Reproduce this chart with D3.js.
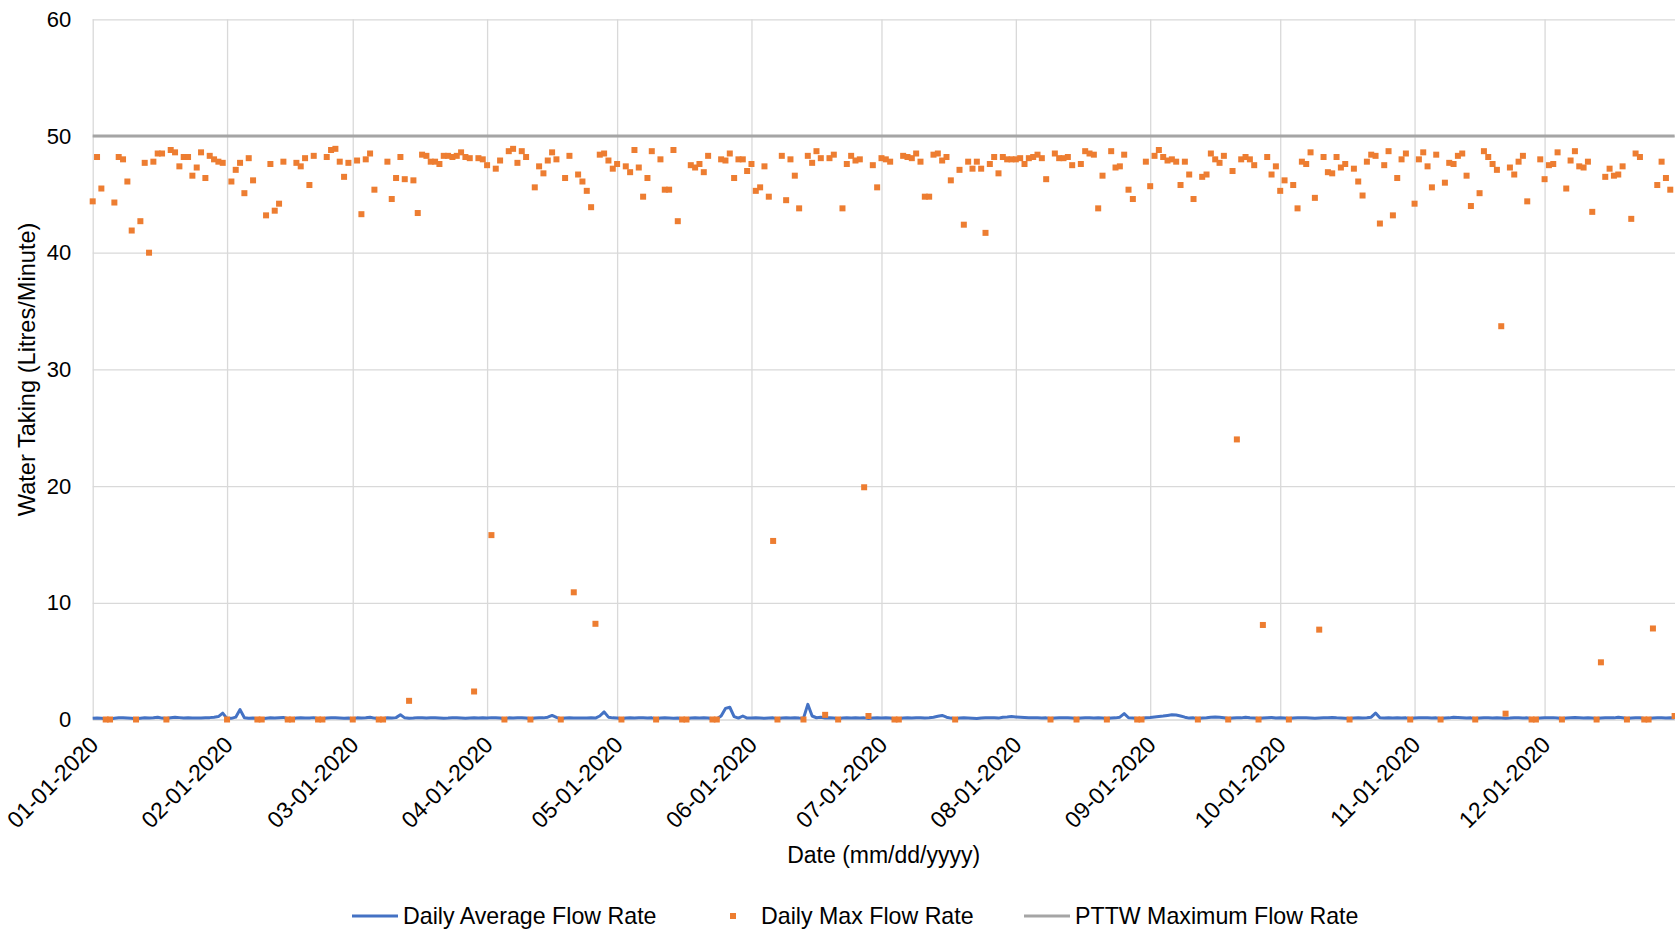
<!DOCTYPE html>
<html>
<head>
<meta charset="utf-8">
<script src="https://cdn.jsdelivr.net/npm/d3@7"></script>
<style>
  body { margin: 0; background: #fff; }
  text { font-family: "Liberation Sans", Arial, sans-serif; fill: #000; }
</style>
</head>
<body>
<script>
// one value per day of 2020
var startDate = '2020-01-01';
var endDate = '2020-12-31';

// daily max flow rate (L/min), one row per month
var dailyMax = [
  44.4, 48.2, 45.5, 0, 0, 44.3, 48.2, 48.0, 46.1, 41.9, 0, 42.7, 47.7, 40.0, 47.8, 48.5, 48.5, 0, 48.8, 48.6, 47.4, 48.2, 48.2, 46.6, 47.3, 48.6, 46.4, 48.3, 48.0, 47.8, 47.7,
  0, 46.1, 47.1, 47.7, 45.1, 48.1, 46.2, 0, 0, 43.2, 47.6, 43.6, 44.2, 47.8, 0, 0, 47.7, 47.4, 48.1, 45.8, 48.3, 0, 0, 48.2, 48.8, 48.9, 47.8, 46.5, 47.7,
  0, 47.9, 43.3, 48.0, 48.5, 45.4, 0, 0, 47.8, 44.6, 46.4, 48.2, 46.3, 1.6, 46.2, 43.4, 48.4, 48.3, 47.8, 47.8, 47.6, 48.3, 48.3, 48.2, 48.3, 48.6, 48.2, 48.1, 2.4, 48.1, 48.0,
  47.5, 15.8, 47.2, 47.9, 0, 48.7, 48.9, 47.7, 48.7, 48.2, 0, 45.6, 47.4, 46.8, 47.9, 48.6, 48.0, 0, 46.4, 48.3, 10.9, 46.7, 46.1, 45.3, 43.9, 8.2, 48.4, 48.5, 47.9, 47.2,
  47.6, 0, 47.4, 46.9, 48.8, 47.3, 44.8, 46.4, 48.7, 0, 48.0, 45.4, 45.4, 48.8, 42.7, 0, 0, 47.5, 47.3, 47.6, 46.9, 48.3, 0, 0, 48.0, 47.9, 48.5, 46.4, 48.0, 48.0, 47.0,
  47.6, 45.3, 45.6, 47.4, 44.8, 15.3, 0, 48.3, 44.5, 48.0, 46.6, 43.8, 0, 48.3, 47.7, 48.7, 48.1, 0.4, 48.1, 48.4, 0, 43.8, 47.6, 48.3, 47.9, 48.0, 19.9, 0.3, 47.5, 45.6,
  48.1, 48.0, 47.8, 0, 0, 48.3, 48.2, 48.1, 48.5, 47.8, 44.8, 44.8, 48.4, 48.5, 47.9, 48.2, 46.2, 0, 47.1, 42.4, 47.8, 47.2, 47.8, 47.2, 41.7, 47.6, 48.2, 46.8, 48.2, 48.0, 48.0,
  48.0, 48.1, 47.6, 48.1, 48.2, 48.4, 48.1, 46.3, 0, 48.5, 48.1, 48.1, 48.2, 47.5, 0, 47.6, 48.7, 48.5, 48.4, 43.8, 46.6, 0, 48.7, 47.3, 47.4, 48.4, 45.4, 44.6, 0, 0, 47.8,
  45.7, 48.3, 48.8, 48.2, 47.9, 48.0, 47.8, 45.8, 47.8, 46.7, 44.6, 0, 46.5, 46.7, 48.5, 48.0, 47.7, 48.3, 0, 47.0, 24.0, 48.0, 48.2, 48.0, 47.5, 0, 8.1, 48.2, 46.7, 47.4,
  45.3, 46.2, 0, 45.8, 43.8, 47.8, 47.6, 48.6, 44.7, 7.7, 48.2, 46.9, 46.8, 48.2, 47.3, 47.6, 0, 47.2, 46.1, 44.9, 47.8, 48.4, 48.3, 42.5, 47.5, 48.7, 43.2, 46.4, 48.0, 48.5, 0,
  44.2, 48.0, 48.6, 47.4, 45.6, 48.4, 0, 46.0, 47.7, 47.6, 48.3, 48.5, 46.6, 44.0, 0, 45.1, 48.7, 48.2, 47.6, 47.1, 33.7, 0.5, 47.3, 46.7, 47.8, 48.3, 44.4, 0, 0, 48.0,
  46.3, 47.5, 47.6, 48.6, 0, 45.5, 47.9, 48.7, 47.4, 47.3, 47.8, 43.5, 0, 4.9, 46.5, 47.2, 46.6, 46.7, 47.4, 0, 42.9, 48.5, 48.2, 0, 0, 7.8, 45.8, 47.8, 46.4, 45.4, 0.3
];

// daily average flow rate (L/min), one row per month
var dailyAvg = [
  0.1, 0.12, 0.1, 0.06, 0.05, 0.1, 0.15, 0.14, 0.12, 0.1, 0.06, 0.1, 0.14, 0.12, 0.15, 0.2, 0.12, 0.08, 0.15, 0.2, 0.16, 0.12, 0.14, 0.12, 0.13, 0.12, 0.14, 0.16, 0.2, 0.25, 0.55,
  0.08, 0.1, 0.2, 0.85, 0.15, 0.1, 0.12, 0.06, 0.06, 0.1, 0.14, 0.12, 0.15, 0.18, 0.06, 0.06, 0.12, 0.15, 0.13, 0.12, 0.16, 0.06, 0.06, 0.12, 0.15, 0.14, 0.12, 0.1, 0.12,
  0.06, 0.14, 0.12, 0.15, 0.2, 0.12, 0.06, 0.06, 0.15, 0.12, 0.16, 0.4, 0.14, 0.1, 0.12, 0.16, 0.14, 0.12, 0.15, 0.14, 0.12, 0.1, 0.12, 0.15, 0.14, 0.12, 0.1, 0.12, 0.14, 0.12, 0.15,
  0.12, 0.16, 0.14, 0.12, 0.06, 0.14, 0.12, 0.15, 0.14, 0.12, 0.06, 0.12, 0.15, 0.14, 0.2, 0.35, 0.18, 0.06, 0.12, 0.14, 0.12, 0.13, 0.12, 0.12, 0.14, 0.12, 0.3, 0.65, 0.2, 0.14,
  0.12, 0.06, 0.12, 0.14, 0.12, 0.15, 0.14, 0.12, 0.14, 0.06, 0.12, 0.14, 0.12, 0.1, 0.12, 0.06, 0.06, 0.12, 0.14, 0.12, 0.15, 0.12, 0.06, 0.06, 0.3, 0.95, 1.05, 0.25, 0.12, 0.3, 0.12,
  0.12, 0.14, 0.12, 0.1, 0.12, 0.14, 0.06, 0.12, 0.14, 0.12, 0.15, 0.12, 0.1, 1.3, 0.3, 0.15, 0.2, 0.12, 0.14, 0.12, 0.06, 0.12, 0.14, 0.12, 0.15, 0.12, 0.14, 0.08, 0.12, 0.14,
  0.12, 0.14, 0.12, 0.06, 0.06, 0.12, 0.14, 0.12, 0.15, 0.14, 0.12, 0.15, 0.2, 0.28, 0.35, 0.2, 0.12, 0.06, 0.12, 0.14, 0.12, 0.1, 0.08, 0.12, 0.14, 0.15, 0.14, 0.12, 0.2, 0.22, 0.25,
  0.22, 0.2, 0.18, 0.16, 0.15, 0.14, 0.12, 0.14, 0.08, 0.12, 0.15, 0.16, 0.14, 0.12, 0.08, 0.12, 0.14, 0.15, 0.12, 0.14, 0.12, 0.08, 0.12, 0.14, 0.2, 0.5, 0.15, 0.12, 0.08, 0.08, 0.15,
  0.18, 0.22, 0.26, 0.3, 0.35, 0.4, 0.38, 0.3, 0.2, 0.12, 0.14, 0.08, 0.12, 0.15, 0.2, 0.22, 0.2, 0.15, 0.08, 0.12, 0.15, 0.14, 0.2, 0.15, 0.12, 0.08, 0.12, 0.15, 0.18, 0.12,
  0.14, 0.12, 0.08, 0.12, 0.14, 0.16, 0.14, 0.12, 0.1, 0.12, 0.14, 0.15, 0.18, 0.14, 0.12, 0.1, 0.08, 0.12, 0.14, 0.12, 0.15, 0.2, 0.55, 0.15, 0.12, 0.14, 0.12, 0.14, 0.12, 0.14, 0.08,
  0.12, 0.14, 0.16, 0.14, 0.12, 0.14, 0.08, 0.12, 0.14, 0.2, 0.18, 0.15, 0.12, 0.14, 0.08, 0.12, 0.15, 0.14, 0.12, 0.14, 0.12, 0.1, 0.12, 0.15, 0.14, 0.12, 0.14, 0.08, 0.08, 0.12,
  0.15, 0.14, 0.16, 0.12, 0.08, 0.12, 0.15, 0.18, 0.15, 0.12, 0.14, 0.12, 0.08, 0.12, 0.14, 0.16, 0.14, 0.2, 0.15, 0.08, 0.12, 0.14, 0.15, 0.08, 0.08, 0.12, 0.14, 0.15, 0.12, 0.14, 0.12
];

// permit limit, constant over the year
var pttwMax = 50;

var yTicks = [0, 10, 20, 30, 40, 50, 60];
var seriesNames = ['Daily Average Flow Rate', 'Daily Max Flow Rate', 'PTTW Maximum Flow Rate'];
var xTitle = 'Date (mm/dd/yyyy)';
var yTitle = 'Water Taking (Litres/Minute)';

function drawChart() {
  var width = 1675;
  var height = 932;
  var colors = ['#4472C4', '#ED7D31', '#A5A5A5'];
  var grid = '#D9D9D9';

  var svg = d3.select('body')
    .append('svg')
    .attr('width', width)
    .attr('height', height);

  var parse = d3.timeParse('%Y-%m-%d');
  var first = parse(startDate);
  var last = parse(endDate);
  var days = d3.timeDay.range(first, d3.timeDay.offset(last, 1));
  var months = d3.timeMonth.range(first, last);

  // plot area, the right edge runs to the border of the picture
  var left = 92.7;
  var right = 1674.6;
  var top = 19.3;
  var bottom = 719.5;

  var x = d3.scaleTime()
    .domain([first, last])
    .range([left, right]);

  var y = d3.scaleLinear()
    .domain([0, 60])
    .range([bottom, top]);

  // horizontal grid + y labels
  var yAxis = svg.append('g')
    .attr('transform', 'translate(' + left + ',0)')
    .call(d3.axisLeft(y).tickValues(yTicks).tickSize(-(width - left)).tickPadding(21.5));
  yAxis.select('.domain').remove();
  yAxis.selectAll('line').attr('stroke', grid).attr('stroke-width', 1.3);
  yAxis.selectAll('text').attr('font-size', 22).attr('fill', '#000');

  // vertical grid + rotated date labels
  var xAxis = svg.append('g')
    .attr('transform', 'translate(0,' + bottom + ')')
    .call(d3.axisBottom(x).tickValues(months).tickSize(-(bottom - top))
      .tickFormat(d3.timeFormat('%m-%d-%Y')));
  xAxis.select('.domain').remove();
  xAxis.selectAll('line').attr('stroke', grid).attr('stroke-width', 1.3);
  xAxis.selectAll('text')
    .attr('x', 0)
    .attr('y', 0)
    .attr('dy', '0.35em')
    .attr('text-anchor', 'end')
    .attr('transform', 'translate(1,21) rotate(-45)')
    .attr('font-size', 23)
    .attr('fill', '#000');

  // daily average line
  var line = d3.line()
    .x(function (d, i) { return x(days[i]); })
    .y(function (d) { return y(d); });

  svg.append('path')
    .datum(dailyAvg)
    .attr('d', line)
    .attr('fill', 'none')
    .attr('stroke', colors[0])
    .attr('stroke-width', 3)
    .attr('stroke-linejoin', 'round');

  // daily max markers
  var size = 6;
  svg.append('g')
    .selectAll('rect')
    .data(dailyMax)
    .enter()
    .append('rect')
    .attr('x', function (d, i) { return x(days[i]) - size / 2; })
    .attr('y', function (d) { return y(d) - size / 2; })
    .attr('width', size)
    .attr('height', size)
    .attr('fill', colors[1]);

  // permit limit
  svg.append('line')
    .attr('x1', x(first))
    .attr('x2', x(last))
    .attr('y1', y(pttwMax))
    .attr('y2', y(pttwMax))
    .attr('stroke', colors[2])
    .attr('stroke-width', 3);

  // axis titles
  svg.append('text')
    .attr('x', (left + right) / 2)
    .attr('y', 863)
    .attr('text-anchor', 'middle')
    .attr('font-size', 23)
    .text(xTitle);

  svg.append('text')
    .attr('transform', 'translate(27,' + (top + bottom) / 2 + ') rotate(-90)')
    .attr('text-anchor', 'middle')
    .attr('dy', '0.35em')
    .attr('font-size', 23.6)
    .text(yTitle);

  // legend
  var ly = 916;
  var legend = svg.append('g');
  var lineKeys = [[352, 398, 403, 0], [1024, 1070, 1075, 2]];
  lineKeys.forEach(function (k) {
    legend.append('line')
      .attr('x1', k[0]).attr('x2', k[1])
      .attr('y1', ly).attr('y2', ly)
      .attr('stroke', colors[k[3]])
      .attr('stroke-width', 3);
    legend.append('text')
      .attr('x', k[2]).attr('y', ly)
      .attr('dy', '0.35em')
      .attr('font-size', 23.2)
      .text(seriesNames[k[3]]);
  });
  legend.append('rect')
    .attr('x', 733 - size / 2).attr('y', ly - size / 2)
    .attr('width', size).attr('height', size)
    .attr('fill', colors[1]);
  legend.append('text')
    .attr('x', 761).attr('y', ly)
    .attr('dy', '0.35em')
    .attr('font-size', 23.2)
    .text(seriesNames[1]);
}

drawChart();
</script>
</body>
</html>
